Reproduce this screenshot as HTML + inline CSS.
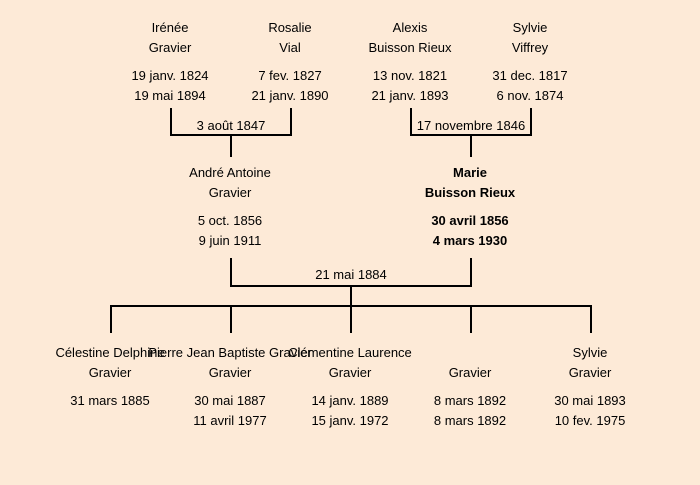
<!DOCTYPE html>
<html><head><meta charset="utf-8"><style>
body{margin:0;width:700px;height:485px;background:#fdead7;position:relative;overflow:hidden;font-family:"Comic Sans MS","Liberation Sans",sans-serif;font-size:13px;color:#000}
.t{position:absolute;width:240px;margin-left:-120px;text-align:center;line-height:16px;white-space:nowrap;transform:translateY(1px)}
.b{font-weight:bold}
.l{position:absolute;background:#000}
</style></head><body>
<div class="l" style="left:170px;top:108px;width:2px;height:28px"></div>
<div class="l" style="left:290px;top:108px;width:2px;height:28px"></div>
<div class="l" style="left:170px;top:134px;width:122px;height:2px"></div>
<div class="l" style="left:230px;top:135px;width:2px;height:22px"></div>
<div class="l" style="left:410px;top:108px;width:2px;height:28px"></div>
<div class="l" style="left:530px;top:108px;width:2px;height:28px"></div>
<div class="l" style="left:410px;top:134px;width:122px;height:2px"></div>
<div class="l" style="left:470px;top:135px;width:2px;height:22px"></div>
<div class="l" style="left:230px;top:258px;width:2px;height:29px"></div>
<div class="l" style="left:470px;top:258px;width:2px;height:29px"></div>
<div class="l" style="left:230px;top:285px;width:242px;height:2px"></div>
<div class="l" style="left:350px;top:286px;width:2px;height:20px"></div>
<div class="l" style="left:110px;top:305px;width:482px;height:2px"></div>
<div class="l" style="left:110px;top:305px;width:2px;height:28px"></div>
<div class="l" style="left:230px;top:305px;width:2px;height:28px"></div>
<div class="l" style="left:350px;top:305px;width:2px;height:28px"></div>
<div class="l" style="left:470px;top:305px;width:2px;height:28px"></div>
<div class="l" style="left:590px;top:305px;width:2px;height:28px"></div>
<div class="t" style="left:170px;top:19px">Irénée</div>
<div class="t" style="left:170px;top:39px">Gravier</div>
<div class="t" style="left:170px;top:67px">19 janv. 1824</div>
<div class="t" style="left:170px;top:87px">19 mai 1894</div>
<div class="t" style="left:290px;top:19px">Rosalie</div>
<div class="t" style="left:290px;top:39px">Vial</div>
<div class="t" style="left:290px;top:67px">7 fev. 1827</div>
<div class="t" style="left:290px;top:87px">21 janv. 1890</div>
<div class="t" style="left:410px;top:19px">Alexis</div>
<div class="t" style="left:410px;top:39px">Buisson Rieux</div>
<div class="t" style="left:410px;top:67px">13 nov. 1821</div>
<div class="t" style="left:410px;top:87px">21 janv. 1893</div>
<div class="t" style="left:530px;top:19px">Sylvie</div>
<div class="t" style="left:530px;top:39px">Viffrey</div>
<div class="t" style="left:530px;top:67px">31 dec. 1817</div>
<div class="t" style="left:530px;top:87px">6 nov. 1874</div>
<div class="t" style="left:231px;top:117px">3 août 1847</div>
<div class="t" style="left:471px;top:117px">17 novembre 1846</div>
<div class="t" style="left:230px;top:164px">André Antoine</div>
<div class="t" style="left:230px;top:184px">Gravier</div>
<div class="t" style="left:230px;top:212px">5 oct. 1856</div>
<div class="t" style="left:230px;top:232px">9 juin 1911</div>
<div class="t b" style="left:470px;top:164px">Marie</div>
<div class="t b" style="left:470px;top:184px">Buisson Rieux</div>
<div class="t b" style="left:470px;top:212px">30 avril 1856</div>
<div class="t b" style="left:470px;top:232px">4 mars 1930</div>
<div class="t" style="left:351px;top:266px">21 mai 1884</div>
<div class="t" style="left:110px;top:344px">Célestine Delphine</div>
<div class="t" style="left:110px;top:364px">Gravier</div>
<div class="t" style="left:110px;top:392px">31 mars 1885</div>
<div class="t" style="left:230px;top:344px">Pierre Jean Baptiste Gravier</div>
<div class="t" style="left:230px;top:364px">Gravier</div>
<div class="t" style="left:230px;top:392px">30 mai 1887</div>
<div class="t" style="left:230px;top:412px">11 avril 1977</div>
<div class="t" style="left:350px;top:344px">Clémentine Laurence</div>
<div class="t" style="left:350px;top:364px">Gravier</div>
<div class="t" style="left:350px;top:392px">14 janv. 1889</div>
<div class="t" style="left:350px;top:412px">15 janv. 1972</div>
<div class="t" style="left:470px;top:364px">Gravier</div>
<div class="t" style="left:470px;top:392px">8 mars 1892</div>
<div class="t" style="left:470px;top:412px">8 mars 1892</div>
<div class="t" style="left:590px;top:344px">Sylvie</div>
<div class="t" style="left:590px;top:364px">Gravier</div>
<div class="t" style="left:590px;top:392px">30 mai 1893</div>
<div class="t" style="left:590px;top:412px">10 fev. 1975</div>
</body></html>
